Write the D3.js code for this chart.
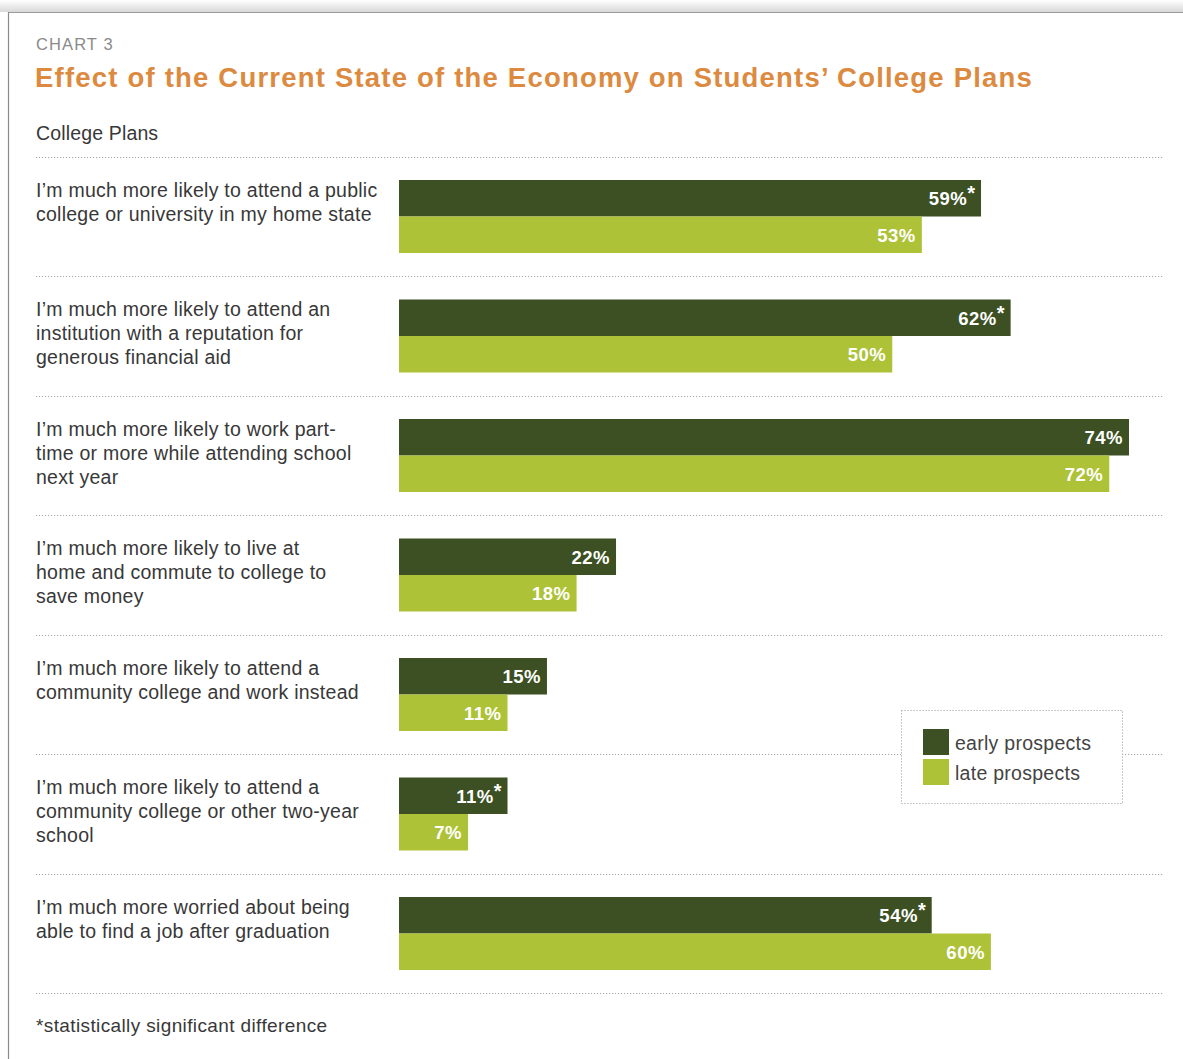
<!DOCTYPE html>
<html>
<head>
<meta charset="utf-8">
<script src="https://cdn.jsdelivr.net/npm/d3@7"></script>
<style>
  html, body { margin: 0; padding: 0; background: #fff; }
  svg { display: block; font-family: "Liberation Sans", Arial, Helvetica, sans-serif; }
</style>
</head>
<body>
<div id="chart"></div>
<script>
// chart data
const categories = [
  ["I\u2019m much more likely to attend a public", "college or university in my home state"],
  ["I\u2019m much more likely to attend an", "institution with a reputation for", "generous financial aid"],
  ["I\u2019m much more likely to work part-", "time or more while attending school", "next year"],
  ["I\u2019m much more likely to live at", "home and commute to college to", "save money"],
  ["I\u2019m much more likely to attend a", "community college and work instead"],
  ["I\u2019m much more likely to attend a", "community college or other two-year", "school"],
  ["I\u2019m much more worried about being", "able to find a job after graduation"]
];
const earlyValues = [59, 62, 74, 22, 15, 11, 54];
const lateValues = [53, 50, 72, 18, 11, 7, 60];
const significant = [true, true, false, false, false, true, true];
const seriesNames = ["early prospects", "late prospects"];
const seriesColors = ["#3c5023", "#adc236"];

const width = 1183, height = 1059;
const svg = d3.select("#chart").append("svg")
  .attr("width", width)
  .attr("height", height);

// page frame (top shadow + left rule)
const grad = svg.append("defs").append("linearGradient")
  .attr("id", "topshade").attr("x1", 0).attr("x2", 0).attr("y1", 0).attr("y2", 1);
grad.append("stop").attr("offset", "0%").attr("stop-color", "#ffffff");
grad.append("stop").attr("offset", "100%").attr("stop-color", "#d8d8d8");
svg.append("rect").attr("x", 0).attr("y", 0).attr("width", width).attr("height", 12)
  .attr("fill", "url(#topshade)");
svg.append("line").attr("x1", 8).attr("x2", width).attr("y1", 12.5).attr("y2", 12.5)
  .attr("stroke", "#9a9a9a").attr("stroke-width", 1.2);
svg.append("line").attr("x1", 8.5).attr("x2", 8.5).attr("y1", 12).attr("y2", height)
  .attr("stroke", "#8a8a8a").attr("stroke-width", 1.2);

// headings
svg.append("text").attr("x", 36).attr("y", 50)
  .attr("font-size", 16.5).attr("letter-spacing", 1.1).attr("fill", "#8a8a8a").text("CHART 3");
svg.append("text").attr("x", 35).attr("y", 87)
  .attr("font-size", 27.5).attr("font-weight", "bold").attr("letter-spacing", 1.2)
  .attr("fill", "#dc8a40")
  .text("Effect of the Current State of the Economy on Students\u2019 College Plans");
svg.append("text").attr("x", 36).attr("y", 140)
  .attr("font-size", 19.5).attr("letter-spacing", 0.15).attr("fill", "#383838").text("College Plans");

// scales
const rowTop = 156.5, rowStep = 119.5;
const y = d3.scaleBand()
  .domain(d3.range(categories.length))
  .range([rowTop, rowTop + rowStep * categories.length])
  .paddingInner(0).paddingOuter(0);
const x = d3.scaleLinear().domain([0, 74]).range([399, 1129]);
const barH = 36.5, barOffset = 23.5;

// separators
const sepYs = d3.range(categories.length + 1).map(i => rowTop + i * rowStep);
svg.append("g").selectAll("line").data(sepYs).enter().append("line")
  .attr("x1", 36).attr("x2", 1163)
  .attr("y1", d => Math.round(d) + 0.5).attr("y2", d => Math.round(d) + 0.5)
  .attr("stroke", "#a8a8a8").attr("stroke-width", 1)
  .attr("stroke-dasharray", "1.2,1.8");

// rows
const rows = svg.append("g").selectAll("g.row")
  .data(categories.map((c, i) => ({
    lines: c, early: earlyValues[i], late: lateValues[i], sig: significant[i], i: i
  })))
  .enter().append("g").attr("class", "row")
  .attr("transform", d => "translate(0," + y(d.i) + ")");

rows.append("text")
  .attr("x", 36).attr("y", 40)
  .attr("font-size", 19.5).attr("letter-spacing", 0.25).attr("fill", "#383838")
  .selectAll("tspan").data(d => d.lines).enter().append("tspan")
  .attr("x", 36).attr("dy", (d, j) => j === 0 ? 0 : 24)
  .text(d => d);

[["early", 0], ["late", 1]].forEach(([key, k]) => {
  rows.append("rect")
    .attr("x", x(0))
    .attr("y", barOffset + k * barH)
    .attr("width", d => x(d[key]) - x(0))
    .attr("height", barH)
    .attr("fill", seriesColors[k]);

  const lbl = rows.append("text")
    .attr("x", d => x(d[key]) - 6)
    .attr("y", barOffset + k * barH + 25)
    .attr("text-anchor", "end")
    .attr("font-size", 18.5).attr("font-weight", "bold").attr("letter-spacing", 0.5)
    .attr("fill", "#fff");
  lbl.append("tspan").text(d => d[key] + "%");
  lbl.filter(d => k === 0 && d.sig).append("tspan")
    .attr("dx", 0).attr("dy", -5).attr("font-size", 20).attr("letter-spacing", 0).text("*");
});

// legend
const legend = svg.append("g").attr("transform", "translate(901,710)");
legend.append("rect").attr("x", 0.5).attr("y", 0.5).attr("width", 221).attr("height", 93)
  .attr("fill", "#fff").attr("stroke", "#a8a8a8").attr("stroke-width", 1)
  .attr("stroke-dasharray", "1.2,1.8");
seriesNames.forEach((name, i) => {
  legend.append("rect").attr("x", 22).attr("y", 19 + i * 30)
    .attr("width", 26).attr("height", 26).attr("fill", seriesColors[i]);
  legend.append("text").attr("x", 54).attr("y", 40 + i * 30)
    .attr("font-size", 19.5).attr("letter-spacing", 0.27).attr("fill", "#444").text(name);
});

// footnote
svg.append("text").attr("x", 36).attr("y", 1032)
  .attr("font-size", 19).attr("letter-spacing", 0.38).attr("fill", "#383838")
  .text("*statistically significant difference");
</script>
</body>
</html>
